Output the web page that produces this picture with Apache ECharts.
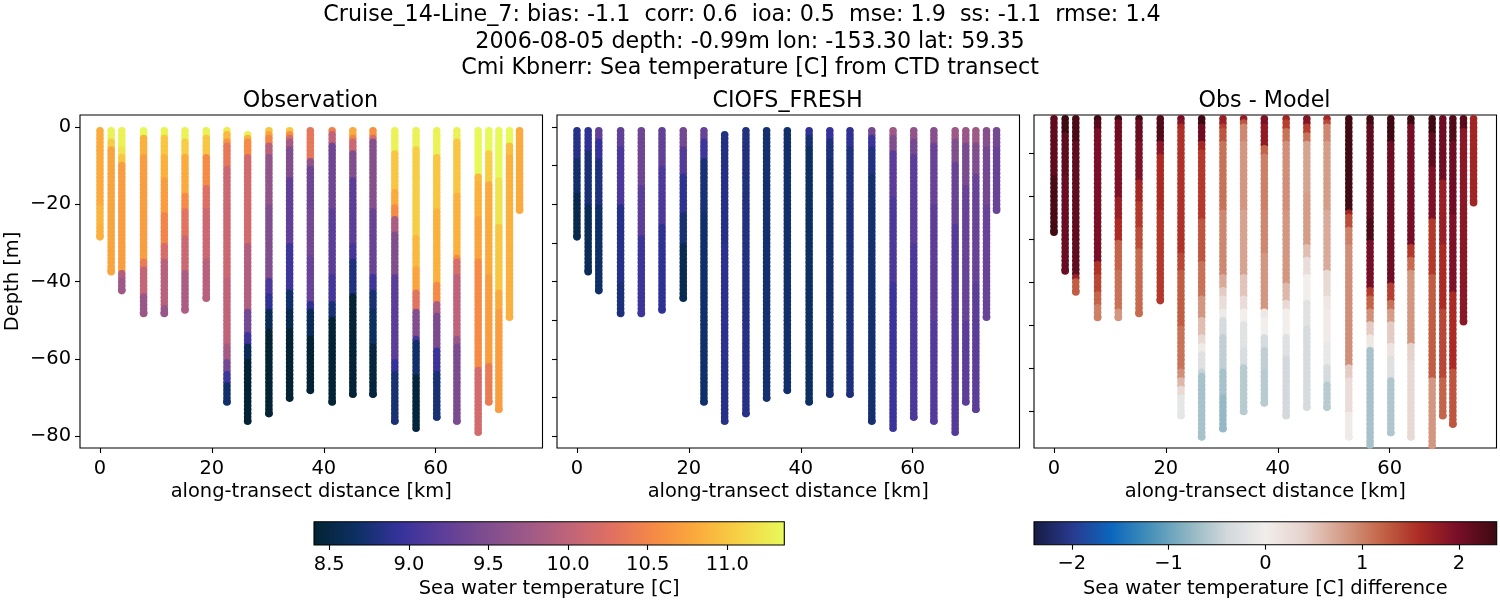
<!DOCTYPE html>
<html>
<head>
<meta charset="utf-8">
<style>html,body{margin:0;padding:0;background:#fff}#main{width:1500px;height:600px}</style>
<script src="https://cdn.jsdelivr.net/npm/echarts@6/dist/echarts.min.js"></script>
</head>
<body>
<div id="main"></div>
<script>
// station positions along the transect [km]
var stationKm = [0, 2, 3.9, 7.8, 11.5, 15.2, 19, 22.7, 26.4, 30.2, 33.9, 37.6, 41.5, 45.2, 48.8, 52.7, 56.5, 60.2, 63.8, 67.6, 69.5, 71.3, 73.2, 75];
// first sample depth [m] at each station
var stationTop = [0.99, 0.99, 0.99, 0.99, 0.99, 0.99, 0.99, 0.99, 1.99, 0.99, 0.99, 0.99, 0.99, 0.99, 0.99, 0.99, 0.99, 0.99, 0.99, 0.99, 0.99, 0.99, 0.99, 0.99];

// observed profiles, read per station as [down to depth, temperature]
var obsProfiles = [
  [[20, 10.8], [25, 10.88], [28.4, 10.84]],
  [[3, 11.3], [5, 11.05], [37.4, 10.75]],
  [[5, 11.3], [7, 11.2], [9.4, 11.0], [37.8, 10.7], [39.5, 9.9], [42.3, 9.75]],
  [[2.8, 11.35], [7, 10.85], [34.8, 10.7], [36, 10.4], [43, 10.05], [48.2, 9.7]],
  [[2.8, 11.3], [7, 11.0], [13, 10.85], [22, 10.7], [30, 10.5], [34, 10.2], [46.4, 9.95], [48.2, 9.7]],
  [[3.8, 11.3], [7, 11.05], [17, 10.8], [21, 10.55], [28, 10.3], [37, 10.1], [47.3, 9.85]],
  [[2.8, 11.3], [7, 11.0], [15.5, 10.55], [21, 10.25], [34, 10.1], [44.3, 9.95]],
  [[1, 11.25], [3, 10.9], [4, 10.6], [10, 10.35], [39, 10.1], [56, 10], [60, 9.8], [63.6, 9.4], [66, 9.0], [71.1, 8.7]],
  [[2, 11.3], [3, 10.85], [7, 10.55], [30, 10.15], [47, 9.9], [53, 9.4], [56, 9.0], [60, 8.6], [76, 8.42]],
  [[1, 11.0], [2, 10.75], [4, 10.5], [7, 9.95], [20, 9.65], [39, 9.5], [43, 9.1], [47, 8.9], [52, 8.6], [74.1, 8.42]],
  [[1, 11.0], [2, 10.6], [3, 10.2], [5, 9.8], [13, 9.5], [30, 9.25], [42, 9.0], [47, 8.7], [52.5, 8.55], [70.1, 8.42]],
  [[8, 10.35], [10, 9.65], [21, 9.35], [33, 9.4], [45, 9.3], [47, 8.9], [54, 8.6], [68.1, 8.42]],
  [[1.5, 10.45], [4, 10], [21, 9.35], [38, 9.2], [45, 9.05], [49, 8.75], [71.1, 8.42]],
  [[2, 10.8], [3.5, 10.5], [6, 10.1], [13, 9.5], [30, 9.2], [34, 9.05], [43.6, 8.8], [69.1, 8.42]],
  [[2, 10.6], [3.5, 10.2], [21, 9.55], [38.6, 9.3], [42, 9], [47, 8.75], [56, 8.65], [69.1, 8.46]],
  [[6, 11.3], [16.4, 11.0], [20.5, 10.8], [23.6, 10.55], [27.5, 9.85], [38.6, 9.5], [60, 9.2], [63.6, 8.95], [76, 8.75]],
  [[5, 11.3], [28, 11.05], [36, 10.9], [42, 10.75], [47, 10.3], [54, 9.5], [55.5, 9.05], [64.5, 8.7], [77.9, 8.45]],
  [[7, 11.3], [21.4, 11.0], [40, 10.85], [45.5, 10.55], [48, 9.85], [57.6, 9.45], [63, 8.98], [75, 8.75]],
  [[3, 11.3], [17, 11], [33, 10.85], [34.4, 10.55], [38.6, 10.2], [54, 10.0], [56, 9.7], [76, 9.45]],
  [[12, 11.35], [14.5, 10.9], [23, 10.85], [34.4, 10.75], [62, 10.55], [78.9, 10.15]],
  [[6, 11.35], [14.5, 11.05], [38.6, 10.8], [61, 10.7], [71.1, 10.4]],
  [[13, 11.35], [25, 11.2], [42, 11.0], [47, 10.8], [73, 10.7]],
  [[4, 11.35], [7, 10.95], [49.2, 10.85]],
  [[21.5, 10.8]]
];

// model profiles at the same stations
var modelProfiles = [
  [[8, 8.85], [17, 8.7], [28.4, 8.55]],
  [[6, 8.9], [20, 8.75], [37.4, 8.6]],
  [[3, 9.25], [8, 8.95], [20, 8.8], [42.3, 8.68]],
  [[5, 9.25], [20, 9.1], [40, 8.85], [48.2, 8.78]],
  [[15, 9.35], [28, 9.2], [48.2, 9.0]],
  [[10, 9.25], [25, 9.1], [47.3, 8.9]],
  [[5, 9.4], [12, 9.15], [22, 8.9], [30, 8.75], [44.3, 8.58]],
  [[3, 9.3], [8, 9.0], [22, 8.75], [71.1, 8.7]],
  [[10, 8.82], [30, 8.84], [60, 8.88], [76, 8.85]],
  [[20, 8.8], [50, 8.82], [74.1, 8.84]],
  [[70.1, 8.72]],
  [[68.1, 8.7]],
  [[2, 8.9], [5, 8.75], [71.1, 8.66]],
  [[3, 8.95], [8, 8.78], [69.1, 8.72]],
  [[5, 8.9], [20, 8.8], [69.1, 8.78]],
  [[2, 9.4], [5, 8.98], [12, 8.82], [76, 8.72]],
  [[2, 9.75], [6, 9.5], [18, 9.2], [40, 9.1], [77.9, 8.98]],
  [[3, 9.65], [7, 9.4], [30, 9.2], [75, 9.1]],
  [[4, 9.55], [20, 9.3], [50, 9.2], [76, 9.15]],
  [[3, 9.75], [9, 9.5], [25, 9.3], [78.9, 9.15]],
  [[4, 9.7], [15, 9.45], [50, 9.3], [71.1, 9.2]],
  [[4, 9.75], [12, 9.5], [40, 9.3], [73, 9.2]],
  [[5, 9.55], [20, 9.4], [49.2, 9.3]],
  [[5, 9.4], [21.5, 9.3]]
];

// obs - model difference
var diffProfiles = [
  [[15, 2.15], [26, 2.3], [28.4, 2.35]],
  [[5.4, 2.38], [15.5, 2.15], [37.4, 2.1]],
  [[7.7, 2.3], [38, 2.15], [39.5, 1.75], [42.3, 1.25]],
  [[2.5, 2.38], [4, 2.2], [35.6, 1.98], [38, 1.55], [42.6, 1.4], [45, 1.2], [48.2, 1.0]],
  [[2.3, 2.35], [7.7, 2.05], [20, 1.95], [25.6, 1.75], [30, 1.6], [37, 1.2], [46.5, 1.1], [48.2, 0.85]],
  [[2.3, 2.35], [7, 2.1], [16, 1.95], [21.7, 1.65], [27, 1.5], [32.6, 1.35], [47.3, 1.15]],
  [[7.7, 2.25], [10, 1.85], [23, 1.6], [44.3, 1.5]],
  [[2.3, 2.0], [3.9, 1.9], [4.6, 1.6], [33, 1.55], [37, 1.4], [50, 1.25], [60.5, 1.1], [62, 0.9], [64.3, 0.6], [66, 0.3], [71.1, -0.15]],
  [[3, 2.38], [7, 2.05], [9.3, 1.65], [25, 1.5], [35, 1.3], [43.4, 1.1], [48, 0.85], [52, 0.55], [54, 0.3], [56.6, 0.05], [60, -0.25], [61, -0.45], [76, -0.65]],
  [[1.5, 1.95], [3, 1.75], [4.6, 1.45], [7.7, 1.3], [23, 1.1], [38.8, 0.95], [41, 0.7], [43.4, 0.45], [46.5, 0.25], [48, -0.05], [52.7, -0.35], [60.5, -0.5], [66.7, -0.65], [74.1, -0.75]],
  [[2.3, 1.8], [3.9, 1.3], [7.7, 0.95], [23, 0.85], [38.8, 0.75], [43.4, 0.5], [46.5, 0.25], [49.6, 0], [55.8, -0.2], [59.7, -0.3], [70.1, -0.55]],
  [[3.9, 1.95], [8, 1.8], [10, 1.2], [23, 1.0], [33, 0.95], [46.5, 0.85], [48, 0.1], [52.7, 0], [55.8, -0.35], [60, -0.5], [68.1, -0.55]],
  [[2.3, 1.7], [4.6, 1.45], [7.7, 1.1], [23, 0.9], [40, 0.85], [44, 0.6], [46.5, 0.3], [52.7, 0], [57.4, -0.25], [71.1, -0.4]],
  [[3, 1.9], [5.4, 1.45], [7.7, 1.1], [19.4, 0.75], [31, 0.8], [34, 0.55], [38.8, 0.25], [44, 0], [50.4, -0.2], [69.1, -0.35]],
  [[2.3, 1.65], [3.5, 1.4], [7.7, 0.95], [23, 0.8], [37, 0.7], [43.4, 0.3], [46.5, 0.1], [54.3, 0.05], [59, -0.1], [63.6, -0.35], [69.1, -0.55]],
  [[23.3, 2.35], [24.8, 1.7], [27, 1.35], [31, 1.0], [59.7, 0.9], [62, 0.45], [70, 0.25], [76, 0.05]],
  [[3, 2.35], [25.6, 2.15], [30, 2.3], [41, 2.0], [43.4, 1.5], [46.5, 1.2], [49.6, 0.9], [52.7, 0.45], [55, 0.1], [77.9, -0.65]],
  [[7, 2.38], [40.3, 2.05], [44, 1.45], [46.5, 1.1], [49.6, 0.8], [54.3, 0.45], [57.4, 0.15], [62, -0.25], [75, -0.6]],
  [[3, 2.38], [31, 2.0], [34, 1.5], [37, 1.15], [54.3, 0.85], [58, 0.4], [76, 0.3]],
  [[5.4, 2.38], [13, 2.15], [25.6, 1.95], [38.8, 1.5], [62, 1.25], [78.9, 0.85]],
  [[16, 2.05], [31, 1.75], [46.5, 1.6], [62, 1.4], [71.1, 1.2]],
  [[7.7, 2.25], [24.8, 2.05], [42.6, 1.95], [60.5, 1.6], [73, 1.3]],
  [[4, 2.2], [49.2, 1.85]],
  [[21.5, 1.67]]
];

var titleLines = [
  "Cruise_14-Line_7: bias: -1.1  corr: 0.6  ioa: 0.5  mse: 1.9  ss: -1.1  rmse: 1.4",
  "2006-08-05 depth: -0.99m lon: -153.30 lat: 59.35",
  "Cmi Kbnerr: Sea temperature [C] from CTD transect"
];
var panelTitles = ["Observation", "CIOFS_FRESH", "Obs - Model"];

var xTicks = [0, 20, 40, 60];
var yTicksLabelled = [-80, -60, -40, -20, 0];
var yTicksMiddle = [-80, -70, -60, -50, -40, -30, -20, -10, 0];
var yTicksRight = [-70, -60, -50, -40, -30, -20, -10];
var tempTicks = [8.5, 9, 9.5, 10, 10.5, 11];
var diffTicks = [-2, -1, 0, 1, 2];
var tempRange = [8.404, 11.358];
var diffRange = [-2.39, 2.39];

var thermal = ["#032333", "#0d3064", "#35329b", "#5d3e99", "#7e4d8f", "#9e5987", "#c16479", "#e17161", "#f68b45", "#fbad3c", "#f6d346", "#e7fa5a"];
var balance = ["#171c42", "#293a8f", "#0b66bd", "#4590b9", "#8eb5c2", "#d2d8db", "#f1eeec", "#e6d2cc", "#d59d89", "#c46548", "#ac2b24", "#780e28", "#3c0911"];

var FONT = "DejaVu Sans";

function valueAt(profile, depth) {
  for (var i = 0; i < profile.length; i++) {
    if (depth <= profile[i][0]) return profile[i][1];
  }
  return profile[profile.length - 1][1];
}

function depthsAt(s) {
  var prof = obsProfiles[s], end = prof[prof.length - 1][0], out = [];
  for (var d = stationTop[s]; d < end; d += 1) out.push(d);
  out.push(end);
  return out;
}

var obsData = [], modelData = [], diffData = [];
stationKm.forEach(function (km, s) {
  depthsAt(s).forEach(function (d) {
    obsData.push([km, -d, valueAt(obsProfiles[s], d)]);
    modelData.push([km, -d, valueAt(modelProfiles[s], d)]);
    diffData.push([km, -d, valueAt(diffProfiles[s], d)]);
  });
});

function fmt(v) { return String(v).replace("-", "\u2212"); }
function stops(colors) {
  return colors.map(function (c, i) { return { offset: i / (colors.length - 1), color: c }; });
}

var panels = [
  { left: 80, yMin: -83, yMax: 3.1, yTicks: yTicksLabelled, labels: true, data: obsData },
  { left: 557, yMin: -83, yMax: 3.1, yTicks: yTicksMiddle, labels: false, data: modelData },
  { left: 1034, yMin: -78.6, yMax: -1.1, yTicks: yTicksRight, labels: false, data: diffData }
];

var tickStyle = { length: 5, lineStyle: { color: "#000", width: 1.1 } };
var labelStyle = { color: "#000", fontFamily: FONT, fontSize: 19.44 };
var hiddenLine = { show: false, onZero: false };

var grids = [], xAxes = [], yAxes = [], series = [], visualMaps = [];
panels.forEach(function (p, i) {
  grids.push({ left: p.left, top: 115, width: 462.5, height: 333, show: true, borderColor: "#000", borderWidth: 1.1, backgroundColor: "#fff", outerBoundsMode: "none" });
  xAxes.push({
    type: "value", gridIndex: i, min: -3.57, max: 79.1, position: "bottom",
    name: "along-transect distance [km]", nameLocation: "middle", nameGap: 33,
    nameTextStyle: labelStyle,
    axisLine: hiddenLine, splitLine: { show: false },
    axisTick: Object.assign({ customValues: xTicks }, tickStyle),
    axisLabel: Object.assign({ customValues: xTicks, margin: 11, formatter: fmt }, labelStyle)
  });
  yAxes.push({
    type: "value", gridIndex: i, min: p.yMin, max: p.yMax, position: "left",
    name: p.labels ? "Depth [m]" : "", nameLocation: "middle", nameGap: 58, nameRotate: 90,
    nameTextStyle: labelStyle,
    axisLine: hiddenLine, splitLine: { show: false },
    axisTick: Object.assign({ customValues: p.yTicks }, tickStyle),
    axisLabel: Object.assign({ show: p.labels, customValues: p.yTicks, margin: 9, padding: [6, 0, 0, 0], formatter: fmt }, labelStyle)
  });
  series.push({
    type: "scatter", xAxisIndex: i, yAxisIndex: i, data: p.data,
    symbol: "circle", symbolSize: 7.6, silent: true, animation: false,
    progressive: 0, clip: true, itemStyle: { opacity: 1 }
  });
});
visualMaps.push({ show: false, seriesIndex: 0, dimension: 2, min: tempRange[0], max: tempRange[1], inRange: { color: thermal } });
visualMaps.push({ show: false, seriesIndex: 1, dimension: 2, min: tempRange[0], max: tempRange[1], inRange: { color: thermal } });
visualMaps.push({ show: false, seriesIndex: 2, dimension: 2, min: diffRange[0], max: diffRange[1], inRange: { color: balance } });

// colorbars: one gradient rect between the axis limits
var bars = [
  { left: 314, width: 470.3, top: 521.7, height: 23.3, range: tempRange, colors: thermal, ticks: tempTicks, name: "Sea water temperature [C]" },
  { left: 1034, width: 462.7, top: 521.7, height: 23, range: diffRange, colors: balance, ticks: diffTicks, name: "Sea water temperature [C] difference" }
];
bars.forEach(function (b, k) {
  var i = grids.length;
  grids.push({ left: b.left, top: b.top, width: b.width, height: b.height, show: true, borderColor: "#000", borderWidth: 1.1, z: 3, outerBoundsMode: "none" });
  xAxes.push({
    type: "value", gridIndex: i, min: b.range[0], max: b.range[1], position: "bottom",
    name: b.name, nameLocation: "middle", nameGap: 34.5, nameTextStyle: labelStyle,
    axisLine: hiddenLine, splitLine: { show: false },
    axisTick: Object.assign({ customValues: b.ticks }, tickStyle),
    axisLabel: Object.assign({
      customValues: b.ticks, margin: 10,
      formatter: function (v) { return k === 0 ? v.toFixed(1) : fmt(v); }
    }, labelStyle)
  });
  yAxes.push({ type: "value", gridIndex: i, min: 0, max: 1, show: false });
  series.push({
    type: "custom", xAxisIndex: i, yAxisIndex: i, silent: true, animation: false, clip: false,
    data: [[b.range[0], b.range[1]]], encode: { x: [0, 1] },
    renderItem: function (params, api) {
      var a = api.coord([api.value(0), 1]), c = api.coord([api.value(1), 0]);
      return {
        type: "rect",
        shape: { x: a[0], y: a[1], width: c[0] - a[0], height: c[1] - a[1] },
        style: { fill: new echarts.graphic.LinearGradient(0, 0, 1, 0, stops(b.colors)) }
      };
    }
  });
});

var lineCentres = [742, 750, 750];
var lineTops = [3.5, 30.5, 56.5];
var titles = titleLines.map(function (t, i) {
  return {
    text: t, left: lineCentres[i], top: lineTops[i], textAlign: "center", padding: 0,
    textStyle: { color: "#000", fontFamily: FONT, fontSize: 22.22, fontWeight: "normal", lineHeight: 24 }
  };
});
panelTitles.forEach(function (t, i) {
  titles.push({
    text: t, left: panels[i].left + 230.5, top: 89, textAlign: "center", padding: 0,
    textStyle: { color: "#000", fontFamily: FONT, fontSize: 22.22, fontWeight: "normal", lineHeight: 24 }
  });
});

var chart = echarts.init(document.getElementById("main"), null, { renderer: "canvas" });
chart.setOption({
  animation: false,
  backgroundColor: "#fff",
  title: titles,
  tooltip: { show: false },
  grid: grids,
  xAxis: xAxes,
  yAxis: yAxes,
  visualMap: visualMaps,
  series: series
});
</script>
</body>
</html>
